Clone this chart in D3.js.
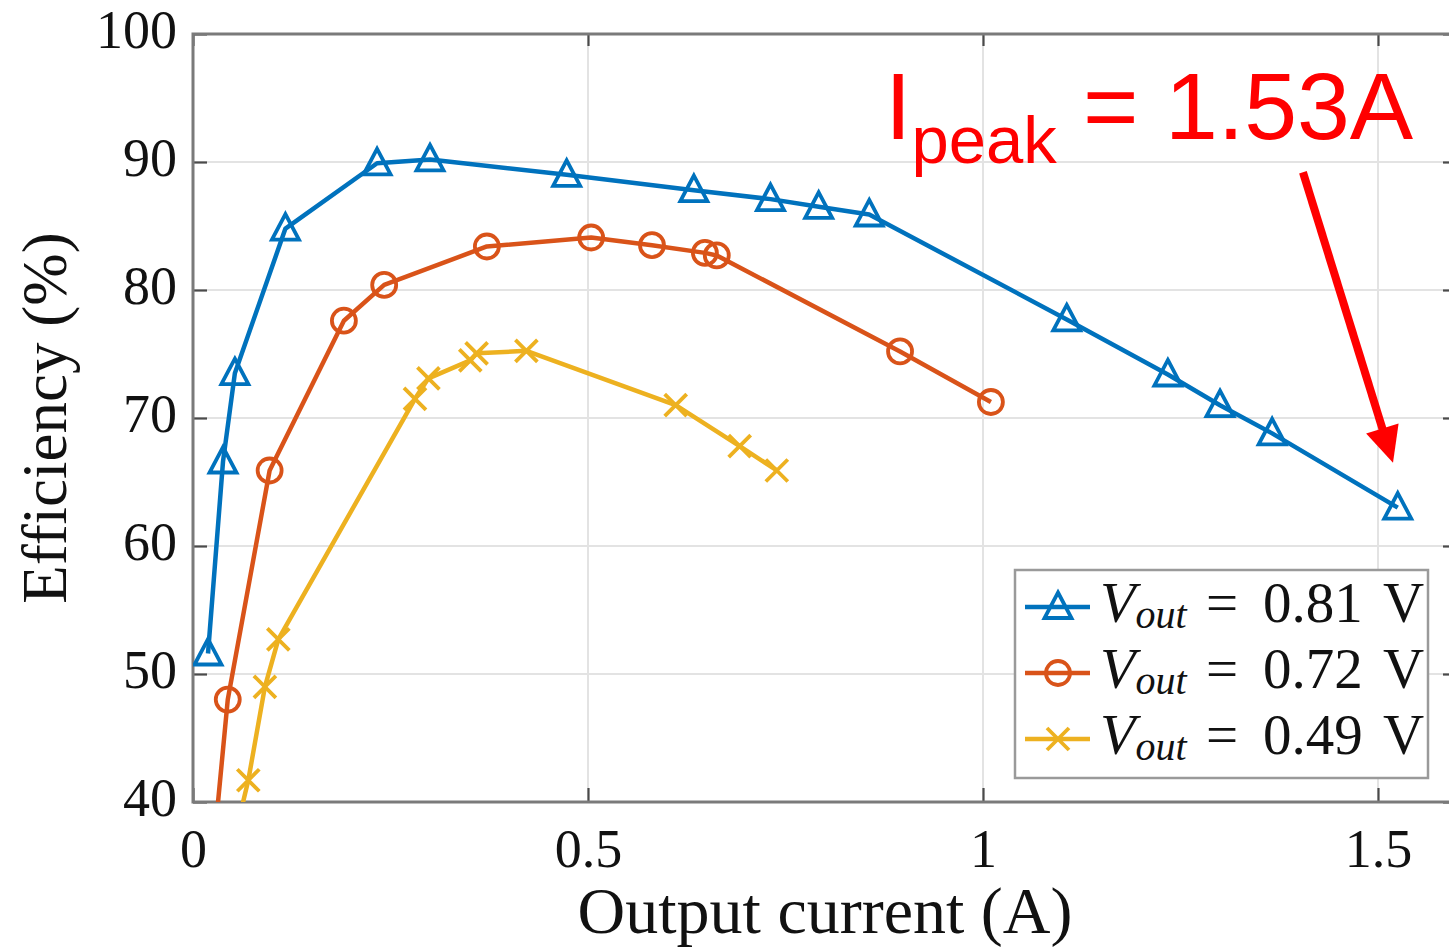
<!DOCTYPE html>
<html>
<head>
<meta charset="utf-8">
<script src="https://cdn.jsdelivr.net/npm/d3@7"></script>
<style>
  html, body { margin: 0; padding: 0; background: #fff; }
  svg { display: block; }
</style>
</head>
<body>
<svg id="chart" width="1449" height="952"></svg>
<script>
// ---------------- data ----------------
const seriesNames = ["0.81", "0.72", "0.49"];

const xBlue   = [0.019, 0.038, 0.053, 0.117, 0.233, 0.300, 0.473, 0.634, 0.731, 0.792, 0.856, 1.106, 1.234, 1.300, 1.366, 1.525];
const yBlue   = [51.6, 66.6, 73.5, 84.8, 89.9, 90.2, 89.0, 87.8, 87.1, 86.5, 85.9, 77.7, 73.4, 71.0, 68.8, 63.0];

const xOrange = [0.024, 0.044, 0.097, 0.191, 0.242, 0.372, 0.504, 0.581, 0.648, 0.663, 0.895, 1.010];
const yOrange = [35.0, 48.0, 65.9, 77.6, 80.4, 83.4, 84.1, 83.5, 82.9, 82.7, 75.2, 71.25];

const xYellow = [0.044, 0.070, 0.091, 0.108, 0.281, 0.298, 0.351, 0.359, 0.422, 0.611, 0.692, 0.739];
const yYellow = [35.0, 41.7, 49.0, 52.7, 71.5, 73.1, 74.5, 75.05, 75.25, 71.0, 67.8, 65.9];

const xTicks = [0, 0.5, 1, 1.5];
const xTickLabels = ["0", "0.5", "1", "1.5"];
const yTicks = [40, 50, 60, 70, 80, 90, 100];
const yTickLabels = ["40", "50", "60", "70", "80", "90", "100"];

const xLabel = "Output current (A)";
const yLabel = "Efficiency (%)";

// annotation (data coordinates)
const arrowStart = [1.405, 89.2];
const arrowTip   = [1.519, 66.5];
const annotMain = "I", annotSub = "peak", annotRest = " = 1.53A";

// ---------------- setup ----------------
const svg = d3.select("#chart");
const L = 193, R = 1457, T = 34, B = 802;
const x = d3.scaleLinear().domain([0, 1.6]).range([L, R]);
const y = d3.scaleLinear().domain([40, 100]).range([B, T]);

const colors = ["#0072BD", "#D95319", "#EDB120"];
const markers = ["tri", "circle", "cross"];
const series = [
  { xs: xBlue, ys: yBlue },
  { xs: xOrange, ys: yOrange },
  { xs: xYellow, ys: yYellow }
].map((s, i) => ({ pts: s.xs.map((v, j) => [v, s.ys[j]]), color: colors[i], marker: markers[i], name: seriesNames[i] }));

svg.append("rect").attr("width", 1449).attr("height", 952).attr("fill", "#fff");

svg.append("defs").append("clipPath").attr("id", "plotclip")
  .append("rect").attr("x", L).attr("y", T).attr("width", R - L).attr("height", B - T);

// grid
const grid = svg.append("g");
grid.selectAll(".gy").data(yTicks.filter(v => v > 40 && v < 100)).join("line")
  .attr("x1", L).attr("x2", R).attr("y1", d => y(d)).attr("y2", d => y(d))
  .attr("stroke", "#e3e3e3").attr("stroke-width", 2);
grid.selectAll(".gx").data(xTicks.filter(v => v > 0)).join("line")
  .attr("y1", T).attr("y2", B).attr("x1", d => x(d)).attr("x2", d => x(d))
  .attr("stroke", "#e3e3e3").attr("stroke-width", 2);

// axes
const fontSerif = "'Liberation Serif', 'Times New Roman', serif";
function styleAxis(g, showLabels) {
  g.select(".domain").remove();
  g.selectAll(".tick line").attr("stroke", "#4a4a4a").attr("stroke-width", 2.2);
  if (!showLabels) g.selectAll(".tick text").remove();
  else g.selectAll(".tick text").attr("font-family", fontSerif).attr("font-size", 54).attr("fill", "#111");
}
svg.append("g").attr("transform", `translate(0,${B})`)
  .call(d3.axisBottom(x).tickValues(xTicks).tickFormat((d, i) => xTickLabels[i]).tickSize(-14).tickPadding(27))
  .call(g => styleAxis(g, true));
svg.append("g").attr("transform", `translate(0,${T})`)
  .call(d3.axisTop(x).tickValues(xTicks).tickSize(-12))
  .call(g => styleAxis(g, false));
svg.append("g").attr("transform", `translate(${L},0)`)
  .call(d3.axisLeft(y).tickValues(yTicks).tickFormat((d, i) => yTickLabels[i]).tickSize(-14).tickPadding(16))
  .call(g => { styleAxis(g, true); g.selectAll(".tick text").attr("dy", "0.25em"); });
svg.append("g").attr("transform", `translate(${R},0)`)
  .call(d3.axisRight(y).tickValues(yTicks).tickSize(-14))
  .call(g => styleAxis(g, false));

// box
svg.append("rect").attr("x", L).attr("y", T).attr("width", R - L).attr("height", B - T)
  .attr("fill", "none").attr("stroke", "#7a7a7a").attr("stroke-width", 3);

// axis labels
svg.append("text").attr("x", (L + R) / 2).attr("y", 933).attr("text-anchor", "middle")
  .attr("font-family", fontSerif).attr("font-size", 66).attr("fill", "#111").text(xLabel);
svg.append("text").attr("transform", `translate(66,${(T + B) / 2}) rotate(-90)`).attr("text-anchor", "middle")
  .attr("font-family", fontSerif).attr("font-size", 63).attr("fill", "#111").text(yLabel);

// marker drawing
function drawMarker(g, type, color) {
  if (type === "tri") {
    g.append("path").attr("d", "M0,-14.5 L13.5,11 L-13.5,11 Z")
      .attr("fill", "none").attr("stroke", color).attr("stroke-width", 3.8).attr("stroke-linejoin", "miter");
  } else if (type === "circle") {
    g.append("circle").attr("r", 12)
      .attr("fill", "none").attr("stroke", color).attr("stroke-width", 3.8);
  } else {
    g.append("path").attr("d", "M-11,-11 L11,11 M-11,11 L11,-11")
      .attr("fill", "none").attr("stroke", color).attr("stroke-width", 3.8);
  }
}

// series
const plot = svg.append("g").attr("clip-path", "url(#plotclip)");
const line = d3.line().x(d => x(d[0])).y(d => y(d[1]));
series.forEach(s => {
  const g = plot.append("g");
  g.append("path").datum(s.pts).attr("d", line)
    .attr("fill", "none").attr("stroke", s.color).attr("stroke-width", 4.5).attr("stroke-linejoin", "round");
  s.pts.forEach(p => {
    const m = g.append("g").attr("transform", `translate(${x(p[0])},${y(p[1])})`);
    drawMarker(m, s.marker, s.color);
  });
});

// legend
const lg = svg.append("g");
lg.append("rect").attr("x", 1015).attr("y", 570).attr("width", 413).attr("height", 208)
  .attr("fill", "#fff").attr("stroke", "#9a9a9a").attr("stroke-width", 2.5);
series.forEach((s, i) => {
  const cy = 607 + i * 66;
  lg.append("line").attr("x1", 1025).attr("x2", 1090).attr("y1", cy).attr("y2", cy)
    .attr("stroke", s.color).attr("stroke-width", 4.5);
  drawMarker(lg.append("g").attr("transform", `translate(1058,${cy})`), s.marker, s.color);
  const t = lg.append("text").attr("x", 1100).attr("y", cy + 15)
    .attr("font-family", fontSerif).attr("font-size", 58).attr("fill", "#111");
  t.append("tspan").attr("font-style", "italic").text("V");
  t.append("tspan").attr("font-style", "italic").attr("font-size", 40).attr("dy", 6).text("out");
  const t2 = lg.append("text").attr("y", cy + 15)
    .attr("font-family", fontSerif).attr("font-size", 57).attr("fill", "#111");
  t2.append("tspan").attr("x", 1206).text("=");
  t2.append("tspan").attr("x", 1263).text(s.name);
  t2.append("tspan").attr("x", 1383).text("V");
});

// annotation
const fontSans = "'Liberation Sans', Arial, Helvetica, sans-serif";
const at = svg.append("text").attr("x", 885).attr("y", 139)
  .attr("font-family", fontSans).attr("font-size", 95).attr("fill", "#ff0000")
  .attr("xml:space", "preserve");
at.append("tspan").text(annotMain);
at.append("tspan").attr("font-size", 67).attr("dy", 24).text(annotSub);
at.append("tspan").attr("dy", -24).style("white-space", "pre").text(annotRest);

const sx = x(arrowStart[0]), sy = y(arrowStart[1]);
const tx = x(arrowTip[0]), ty = y(arrowTip[1]);
const len = Math.hypot(tx - sx, ty - sy);
const ux = (tx - sx) / len, uy = (ty - sy) / len;
const headLen = 36, headHalf = 17;
const bx = tx - ux * headLen, by = ty - uy * headLen;
svg.append("line").attr("x1", sx).attr("y1", sy).attr("x2", bx + ux * 4).attr("y2", by + uy * 4)
  .attr("stroke", "#ff0000").attr("stroke-width", 8);
svg.append("path")
  .attr("d", `M${tx},${ty} L${bx - uy * headHalf},${by + ux * headHalf} L${bx + uy * headHalf},${by - ux * headHalf} Z`)
  .attr("fill", "#ff0000");
</script>
</body>
</html>
